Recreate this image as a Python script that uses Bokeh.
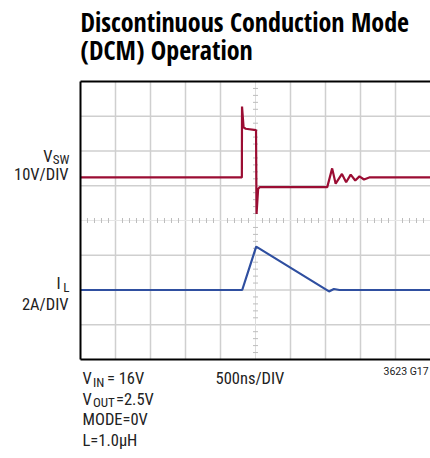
from bokeh.plotting import figure
from bokeh.models import Label
from bokeh.embed import file_html
from bokeh.resources import INLINE

# ---- data (scope divisions) ----
div_x = [1, 2, 3, 4, 6, 7, 8, 9]
div_y = [-3, -2, -1, 1, 2, 3]
minor_pos_x = [i / 5 for i in range(1, 50) if i % 5 != 0]
minor_pos_y = [i / 5 for i in range(-19, 20) if i % 5 != 0]

vsw_t = [0, 4.61, 4.615, 4.66, 4.72, 5.015, 5.03, 5.075, 5.12, 7.05, 7.19,
         7.29, 7.47, 7.59, 7.72, 7.85, 7.97, 8.10, 8.25, 10]
vsw_v = [1.24, 1.24, 3.28, 2.68, 2.64, 2.60, 0.19, 0.91, 0.96, 0.96, 1.50,
         1.06, 1.34, 1.10, 1.32, 1.15, 1.27, 1.18, 1.24, 1.24]

il_t = [0, 4.62, 5.02, 7.10, 7.24, 7.40, 10]
il_i = [-2.0, -2.0, -0.75, -2.04, -1.97, -2.0, -2.0]

RED = "#9b0d33"
BLUE = "#2f4fa0"
GRID = "#cfcfcf"
TITLE_FONT = "Open Sans Condensed"
TEXT_FONT = "Roboto Condensed"

def X(px):
    return (px - 80) / 35.0

def Y(py):
    return 4 - (py - 81) / 34.75

W, H = 430, 458
p = figure(width=W, height=H, x_range=(X(0), X(W)), y_range=(Y(H), Y(0)),
           x_axis_type=None, y_axis_type=None, toolbar_location=None,
           output_backend="svg", min_border=0)
p.outline_line_color = None
p.background_fill_color = "white"
p.border_fill_color = "white"
p.xgrid.visible = False
p.ygrid.visible = False

p.segment(x0=div_x, y0=[-4] * len(div_x), x1=div_x, y1=[4] * len(div_x),
          line_color=GRID, line_width=1.5)
p.segment(x0=[0] * len(div_y), y0=div_y, x1=[10] * len(div_y), y1=div_y,
          line_color=GRID, line_width=1.5)
p.segment(x0=[5], y0=[-4], x1=[5], y1=[4], line_color="#dcdcdc", line_width=1)
p.segment(x0=[0], y0=[0], x1=[10], y1=[0], line_color="#e6e6e6", line_width=1)
p.scatter(x=[5] * len(minor_pos_y), y=minor_pos_y, marker="dash", size=5,
          line_color="#bdbdbd", line_width=1)
p.scatter(x=minor_pos_x, y=[0] * len(minor_pos_x), marker="dash", angle=1.5708,
          size=5, line_color="#bdbdbd", line_width=1)

p.line(vsw_t, vsw_v, line_color=RED, line_width=2.2)
p.line(il_t, il_i, line_color=BLUE, line_width=2.2)

p.segment(x0=[0, 0, 0], y0=[-4, 4, -4], x1=[0, 10, 10], y1=[4, 4, -4],
          line_color="black", line_width=2)


def lab(txt, px, base, size, font=TEXT_FONT, bold=False, align="left",
        color="#222222", k=0.342):
    # k: offset (in em) between the placed y and the rendered baseline
    py = base - k * size
    p.add_layout(Label(x=X(px), y=Y(py), text=txt, text_font=font,
                       text_font_size=f"{size}px", text_color=color,
                       text_font_style="bold" if bold else "normal",
                       text_align=align, text_baseline="alphabetic"))


lab("Discontinuous Conduction Mode", 80, 31.5, 26, TITLE_FONT, bold=True,
    color="black", k=0.388)
lab("(DCM) Operation", 80, 59.5, 26, TITLE_FONT, bold=True, color="black", k=0.388)

S, SS = 16.5, 13
lab("V", 52, 161.5, S, align="right")
lab("SW", 69, 163.5, SS, align="right")
lab("10V/DIV", 68, 180, S, align="right")

lab("I", 60, 289, S, align="right")
lab("L", 69, 291, SS, align="right")
lab("2A/DIV", 68, 310, S, align="right")

lab("V", 82, 383.5, S)
lab("IN", 92.5, 386, SS)
lab("= 16V", 106.5, 383.5, S)
lab("V", 82, 404.2, S)
lab("OUT", 92.5, 406.7, SS)
lab("=2.5V", 115.5, 404.2, S)
lab("MODE=0V", 82, 424.9, S)
lab("L=1.0\u00b5H", 82, 445.6, S)

lab("500ns/DIV", 215, 383.5, S)
lab("3623 G17", 383, 375, 10.5, font="Roboto")

open("out.html", "w").write(file_html(p, INLINE))
